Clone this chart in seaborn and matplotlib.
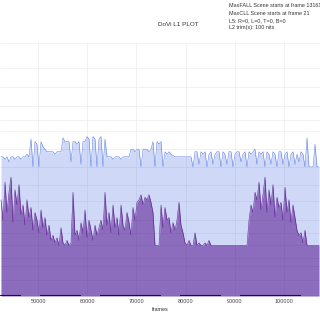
import numpy as np
import pandas as pd
import matplotlib
matplotlib.use("Agg")
import matplotlib.pyplot as plt
import seaborn as sns

# ---- data (PQ code values, 0..1) sampled every 407 frames ----
frame_start = 42245
frame_step = 407

avg_pq = [
    0.38, 0.30, 0.45, 0.33, 0.41, 0.47, 0.29, 0.42, 0.36, 0.44,
    0.32, 0.36, 0.28, 0.38, 0.31, 0.35, 0.26, 0.33,
    0.30, 0.25, 0.34, 0.27, 0.31, 0.24, 0.28,
    0.22, 0.24, 0.21, 0.23, 0.20, 0.27,
    0.21, 0.20, 0.22, 0.20, 0.21,
    0.41, 0.24,
    0.26, 0.22, 0.29, 0.25, 0.34, 0.23, 0.30, 0.26, 0.22, 0.28, 0.24, 0.27,
    0.30, 0.26, 0.41, 0.28, 0.33, 0.25, 0.36, 0.27,
    0.31, 0.24, 0.36, 0.28, 0.26, 0.33, 0.29, 0.24, 0.35, 0.30,
    0.37, 0.38, 0.40, 0.36, 0.39, 0.38, 0.40, 0.37, 0.33,
    0.20, 0.20, 0.20,
    0.36, 0.27, 0.35, 0.30,
    0.31, 0.25, 0.29, 0.26, 0.30,
    0.37, 0.28, 0.25,
    0.21, 0.20, 0.22, 0.20, 0.20, 0.25, 0.20, 0.21, 0.20, 0.20, 0.21, 0.20, 0.22,
    0.20, 0.20, 0.20, 0.20, 0.20, 0.20, 0.20, 0.20, 0.20, 0.20,
    0.20, 0.20, 0.20, 0.20, 0.20, 0.20, 0.20, 0.20, 0.20,
    0.30, 0.36, 0.33, 0.41,
    0.38, 0.45, 0.34,
    0.40, 0.47, 0.33, 0.42, 0.36, 0.44, 0.31, 0.39, 0.35,
    0.37, 0.30, 0.43, 0.33, 0.38, 0.29, 0.36, 0.31,
    0.26, 0.24,
    0.25, 0.21, 0.26,
    0.20, 0.20, 0.20, 0.20, 0.20, 0.20, 0.20,
]

max_pq = [
    0.55, 0.55, 0.54, 0.55, 0.53, 0.55, 0.55, 0.54, 0.55, 0.55, 0.54, 0.55, 0.55, 0.56, 0.55,
    0.62, 0.51, 0.61, 0.60, 0.51, 0.61, 0.59,
    0.58, 0.57, 0.57,
    0.57, 0.57, 0.56, 0.57, 0.57, 0.57,
    0.625, 0.61, 0.61, 0.61, 0.53, 0.61, 0.61, 0.60, 0.61, 0.52, 0.61, 0.61,
    0.63, 0.62, 0.51, 0.63, 0.62, 0.51, 0.62, 0.63, 0.51, 0.62,
    0.55, 0.55, 0.55, 0.54, 0.55, 0.55, 0.55, 0.54, 0.55, 0.55, 0.55, 0.55,
    0.58, 0.58, 0.57, 0.58, 0.58, 0.51, 0.58, 0.58, 0.58, 0.57, 0.58,
    0.61, 0.51, 0.61, 0.60,
    0.61, 0.51,
    0.57, 0.56, 0.57, 0.56,
    0.555, 0.55, 0.55, 0.55, 0.55, 0.55, 0.55, 0.55, 0.55,
    0.55, 0.51,
    0.57, 0.57, 0.52, 0.57, 0.56, 0.57, 0.51, 0.56, 0.57, 0.52,
    0.56, 0.57, 0.57, 0.51, 0.57, 0.56, 0.52, 0.57, 0.57, 0.51,
    0.56, 0.57, 0.57, 0.53, 0.56, 0.57, 0.51, 0.57, 0.56, 0.57,
    0.58, 0.52, 0.57, 0.56, 0.57, 0.51, 0.57, 0.56, 0.52, 0.57,
    0.56, 0.51, 0.57, 0.57, 0.52, 0.56, 0.57, 0.51, 0.56, 0.57,
    0.52, 0.56, 0.53, 0.57, 0.56, 0.51,
    0.625, 0.51, 0.51, 0.51, 0.60, 0.51, 0.51,
]

min_pq_coarse = [0.004, 0.0, 0.004, 0.004, 0.0, 0.004, 0.004, 0.004,
                 0.0, 0.004, 0.004, 0.0, 0.004, 0.004, 0.004, 0.0]

nit_ticks = [0.1, 0.5, 1, 2.5, 5, 10, 25, 50, 100, 200, 400, 600,
             1000, 2000, 4000, 10000]
x_ticks = [50000, 60000, 70000, 80000, 90000, 100000]
x_tick_labels = ["50000", "60000", "70000", "80000", "90000", "100000"]

title = "DoVi L1 PLOT"
info_lines = ["MaxFALL Scene starts at frame 13161",
              "MaxCLL Scene starts at frame 21",
              "L5: R=0, L=0, T=0, B=0",
              "L2 trim(s): 100 nits"]


def nits_to_pq(n):
    m1, m2 = 0.1593017578125, 78.84375
    c1, c2, c3 = 0.8359375, 18.8515625, 18.6875
    y = np.asarray(n, dtype=float) / 10000.0
    ym = y ** m1
    return ((c1 + c2 * ym) / (1 + c3 * ym)) ** m2


n = len(avg_pq)
frames = frame_start + frame_step * np.arange(n) + frame_step / 2
df = pd.DataFrame({"frame": frames, "avg": avg_pq, "max": max_pq})
min_frames = np.linspace(frame_start, frame_start + frame_step * n, len(min_pq_coarse) + 1)
dmin = pd.DataFrame({"frame": min_frames, "min": min_pq_coarse + [min_pq_coarse[-1]]})

sns.set_theme(style="white")
plt.rcParams["font.family"] = ["Liberation Sans", "DejaVu Sans"]

fig = plt.figure(figsize=(3.2, 3.2), dpi=100)
ax = fig.add_axes([0.0, 0.075, 1.0, 0.791])

blue = (65 / 255, 105 / 255, 225 / 255)
indigo = (75 / 255, 0, 130 / 255)

ax.fill_between(df["frame"], 0, df["max"], color=blue, alpha=0.25, lw=0)
sns.lineplot(data=df, x="frame", y="max", ax=ax, color=blue, lw=0.4, alpha=0.8)
ax.fill_between(df["frame"], 0, df["avg"], color=indigo, alpha=0.5, lw=0)
sns.lineplot(data=df, x="frame", y="avg", ax=ax, color=indigo, lw=0.4, alpha=0.8)
sns.lineplot(data=dmin, x="frame", y="min", ax=ax, color="#2a0050", lw=0.8,
             drawstyle="steps-post")

ax.set_xlim(frame_start, frame_start + frame_step * n)
ax.set_ylim(0, 1)
ax.set_yticks(nits_to_pq(nit_ticks))
ax.set_yticklabels([])
ax.set_xticks(x_ticks)
ax.set_xticklabels(x_tick_labels, fontsize=4, color="#444444")
ax.tick_params(axis="x", length=1.5, width=0.4, pad=1, color="#444444")
ax.tick_params(axis="y", length=0)
ax.grid(True, color="#ebebeb", lw=0.5)
ax.set_axisbelow(True)
for s in ax.spines.values():
    s.set_visible(False)
ax.set_xlabel("frames", fontsize=4, color="#333333", labelpad=2)
ax.set_ylabel("")

fig.text(0.556, 0.922, title, fontsize=4.6, ha="center", va="center", color="#333333")
fig.text(0.716, 0.99, "\n".join(info_lines), fontsize=3.9, ha="left", va="top",
         color="#333333", linespacing=1.6)

fig.savefig("out.png", dpi=100)
